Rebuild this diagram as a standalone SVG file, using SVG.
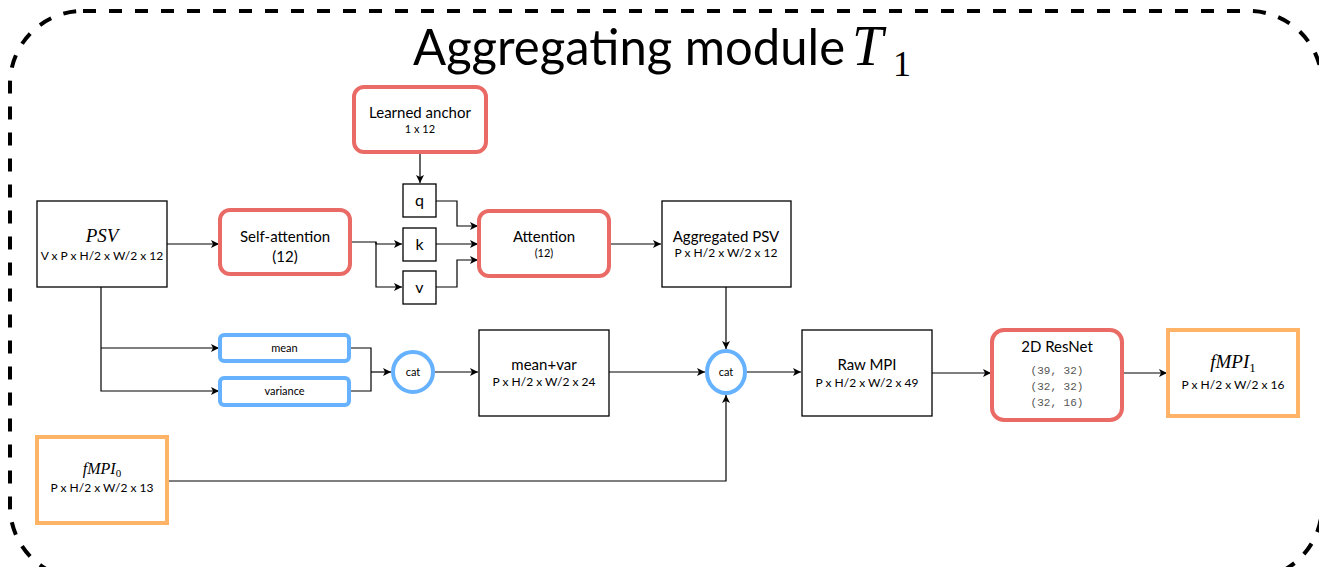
<svg xmlns="http://www.w3.org/2000/svg" width="1319" height="567" viewBox="0 0 1319 567">
<defs>
<marker id="arr" markerWidth="10" markerHeight="10" refX="9" refY="5" orient="auto" markerUnits="userSpaceOnUse">
<path d="M1,1 L9,5 L1,9 L3,5 Z" fill="#000"/>
</marker>
<style>
.t{font-family:Lato,"Noto Sans",sans-serif;fill:#000;text-anchor:middle}
.m{font-family:"Liberation Serif",serif;font-style:italic;fill:#000;text-anchor:middle}
.mono{font-family:"Liberation Mono",monospace;fill:#555;text-anchor:middle;font-size:11px}
.box{fill:#fff;stroke:#000;stroke-width:1.3}
.red{fill:#fff;stroke:#EA6B66;stroke-width:4}
.blue{fill:#fff;stroke:#66B2FF;stroke-width:4}
.org{fill:#fff;stroke:#FFB366;stroke-width:4}
.c{fill:none;stroke:#000;stroke-width:1.2}
</style>
</defs>
<rect x="10" y="11" width="1312" height="568" rx="73" ry="73" fill="none" stroke="#000" stroke-width="4" stroke-dasharray="13 13"/>
<text x="413" y="65" font-family="Lato,'Noto Sans',sans-serif" font-size="50" textLength="432" lengthAdjust="spacingAndGlyphs">Aggregating module</text>
<text x="852" y="65" font-family="Liberation Serif,serif" font-style="italic" font-size="56">T</text>
<text x="893" y="76" font-family="Liberation Serif,serif" font-size="36">1</text>

<g id="connectors">
<path class="c" d="M167,244 H219" marker-end="url(#arr)"/>
<path class="c" d="M350,242 H376 V244 H402" marker-end="url(#arr)"/>
<path class="c" d="M376,242 V287 H402" marker-end="url(#arr)"/>
<path class="c" d="M420,152 V183" marker-end="url(#arr)"/>
<path class="c" d="M436,201 H457 V226 H478" marker-end="url(#arr)"/>
<path class="c" d="M436,244 H478" marker-end="url(#arr)"/>
<path class="c" d="M436,287 H457 V260 H478" marker-end="url(#arr)"/>
<path class="c" d="M609,244 H661" marker-end="url(#arr)"/>
<path class="c" d="M726,287 V349" marker-end="url(#arr)"/>
<path class="c" d="M101,287 V391 H219" marker-end="url(#arr)"/>
<path class="c" d="M101,348 H219" marker-end="url(#arr)"/>
<path class="c" d="M349,348 H371 V391 H349"/>
<path class="c" d="M371,372 H391" marker-end="url(#arr)"/>
<path class="c" d="M434,372 H478" marker-end="url(#arr)"/>
<path class="c" d="M609,372 H705" marker-end="url(#arr)"/>
<path class="c" d="M746,372 H801" marker-end="url(#arr)"/>
<path class="c" d="M932,373 H991" marker-end="url(#arr)"/>
<path class="c" d="M1122,373 H1167" marker-end="url(#arr)"/>
<path class="c" d="M167,481 H726 V395" marker-end="url(#arr)"/>
</g>

<g id="psv">
<rect class="box" x="37" y="201" width="130" height="86"/>
<text class="m" x="102" y="242" font-size="19">PSV</text>
<text class="t" x="102" y="260" font-size="12">V x P x H/2 x W/2 x 12</text>
</g>
<g id="self-attention">
<rect class="red" x="220" y="210" width="130" height="64" rx="10"/>
<text class="t" x="285" y="242" font-size="15">Self-attention</text>
<text class="t" x="285" y="262" font-size="15">(12)</text>
</g>
<g id="learned-anchor">
<rect class="red" x="354" y="87" width="132" height="65" rx="10"/>
<text class="t" x="420" y="118" font-size="15">Learned anchor</text>
<text class="t" x="420" y="133" font-size="11">1 x 12</text>
</g>
<g id="q">
<rect class="box" x="403" y="184" width="33" height="33"/>
<text class="t" x="419.5" y="206" font-size="16">q</text>
</g>
<g id="k">
<rect class="box" x="403" y="228" width="33" height="33"/>
<text class="t" x="419.5" y="250" font-size="16">k</text>
</g>
<g id="v">
<rect class="box" x="403" y="271" width="33" height="33"/>
<text class="t" x="419.5" y="293" font-size="16">v</text>
</g>
<g id="attention">
<rect class="red" x="479" y="211" width="130" height="65" rx="10"/>
<text class="t" x="544" y="242" font-size="15">Attention</text>
<text class="t" x="544" y="257" font-size="11">(12)</text>
</g>
<g id="aggregated-psv">
<rect class="box" x="662" y="201" width="129" height="86"/>
<text class="t" x="726" y="242" font-size="15">Aggregated PSV</text>
<text class="t" x="726" y="257" font-size="12">P x H/2 x W/2 x 12</text>
</g>
<g id="mean">
<rect class="blue" x="220" y="335" width="129" height="26" rx="4"/>
<text class="t" x="284.5" y="352" font-size="11">mean</text>
</g>
<g id="variance">
<rect class="blue" x="220" y="378" width="129" height="27" rx="4"/>
<text class="t" x="284.5" y="395" font-size="11">variance</text>
</g>
<g id="cat1">
<circle class="blue" cx="413" cy="372" r="20"/>
<text class="t" x="413" y="376" font-size="11">cat</text>
</g>
<g id="mean-var">
<rect class="box" x="479" y="330" width="130" height="86"/>
<text class="t" x="544" y="370" font-size="15">mean+var</text>
<text class="t" x="544" y="386" font-size="12">P x H/2 x W/2 x 24</text>
</g>
<g id="cat2">
<ellipse class="blue" cx="726" cy="372" rx="19" ry="21"/>
<text class="t" x="726" y="376" font-size="11">cat</text>
</g>
<g id="raw-mpi">
<rect class="box" x="802" y="330" width="130" height="86"/>
<text class="t" x="867" y="370" font-size="15">Raw MPI</text>
<text class="t" x="867" y="387" font-size="12">P x H/2 x W/2 x 49</text>
</g>
<g id="resnet">
<rect class="red" x="992" y="330" width="130" height="90" rx="12"/>
<text class="t" x="1057" y="352" font-size="15">2D ResNet</text>
<text class="mono" x="1057" y="374">(39, 32)</text>
<text class="mono" x="1057" y="390">(32, 32)</text>
<text class="mono" x="1057" y="406">(32, 16)</text>
</g>
<g id="fmpi1">
<rect class="org" x="1168" y="330" width="130" height="86"/>
<text x="1233" y="368" font-size="19" text-anchor="middle" font-family="Liberation Serif,serif"><tspan font-style="italic">fMPI</tspan><tspan font-size="13" dy="4">1</tspan></text>
<text class="t" x="1233" y="389" font-size="12">P x H/2 x W/2 x 16</text>
</g>
<g id="fmpi0">
<rect class="org" x="37" y="437" width="130" height="86"/>
<text x="102" y="474" font-size="16" text-anchor="middle" font-family="Liberation Serif,serif"><tspan font-style="italic">fMPI</tspan><tspan font-size="11" dy="3">0</tspan></text>
<text class="t" x="102" y="492" font-size="12">P x H/2 x W/2 x 13</text>
</g>
</svg>
